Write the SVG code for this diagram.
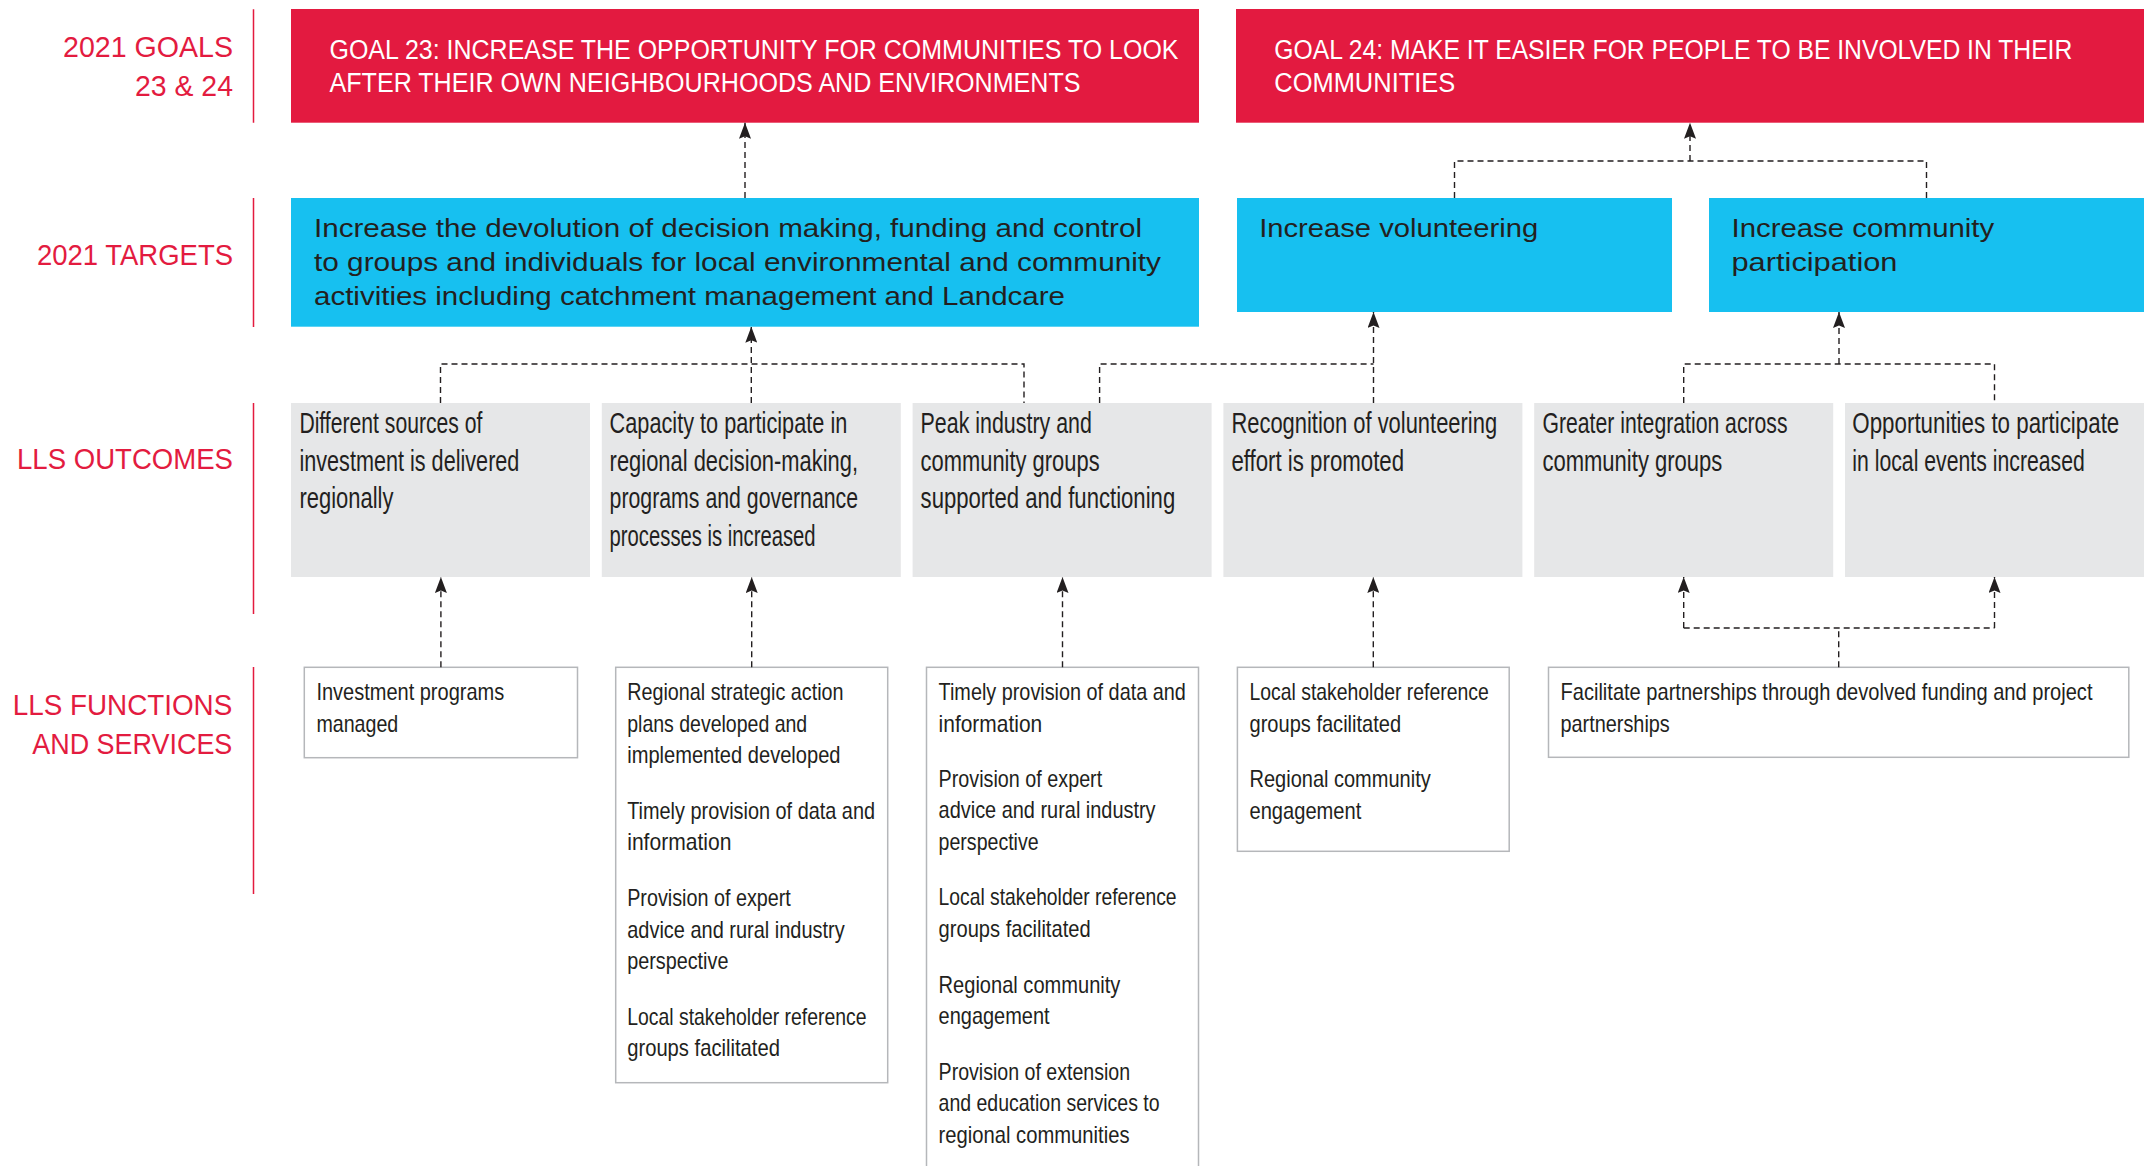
<svg xmlns="http://www.w3.org/2000/svg" width="2147" height="1166" viewBox="0 0 2147 1166">
<defs>
<style>
.lbl{font-family:"Liberation Sans",Arial,sans-serif;font-size:29px;fill:#e31b3f}
.rl{stroke:#e31b3f;stroke-width:1.5;fill:none}
.goal{fill:#e31a40}
.goalt{font-family:"Liberation Sans",Arial,sans-serif;font-size:27px;fill:#ffffff}
.tgt{fill:#17c0f0}
.tgtt{font-family:"Liberation Sans",Arial,sans-serif;font-size:26px;fill:#231f20}
.out{fill:#e6e7e8}
.outt{font-family:"Liberation Sans",Arial,sans-serif;font-size:29px;fill:#231f20}
.fn{fill:#ffffff;stroke:#b5b7ba;stroke-width:1.5}
.fnt{font-family:"Liberation Sans",Arial,sans-serif;font-size:23px;fill:#231f20}
.c{fill:none;stroke:#231f20;stroke-width:1.4;stroke-dasharray:6 4}
.a{marker-end:url(#arr)}
</style>
<marker id="arr" markerUnits="userSpaceOnUse" markerWidth="16" markerHeight="12" viewBox="0 0 16 12" refX="16" refY="6" orient="auto">
<path d="M0,0 L16,6 L0,12 L2.5,6 Z" fill="#231f20"/>
</marker>
</defs>
<rect width="2147" height="1166" fill="#ffffff"/>

<g id="row-labels">
<text class="lbl" x="63" y="56.7" textLength="170" lengthAdjust="spacingAndGlyphs">2021 GOALS</text>
<text class="lbl" x="135" y="96" textLength="98" lengthAdjust="spacingAndGlyphs">23 &amp; 24</text>
<text class="lbl" x="37" y="265" textLength="196" lengthAdjust="spacingAndGlyphs">2021 TARGETS</text>
<text class="lbl" x="17" y="469.3" textLength="216" lengthAdjust="spacingAndGlyphs">LLS OUTCOMES</text>
<text class="lbl" x="12.7" y="715" textLength="219.6" lengthAdjust="spacingAndGlyphs">LLS FUNCTIONS</text>
<text class="lbl" x="32.3" y="754" textLength="200" lengthAdjust="spacingAndGlyphs">AND SERVICES</text>
<path class="rl" d="M253.5,9.3 V122.7 M253.5,198 V327 M253.5,403 V614 M253.5,667 V894"/>
</g>

<g id="goal23">
<rect class="goal" x="291" y="9" width="908" height="113.7"/>
<g transform="matrix(0.92 0 0 1 26.36 0)">
<text class="goalt" x="329.5" y="59.3" textLength="922.83" lengthAdjust="spacingAndGlyphs">GOAL 23: INCREASE THE OPPORTUNITY FOR COMMUNITIES TO LOOK</text>
<text class="goalt" x="329.5" y="92.5" textLength="816.3" lengthAdjust="spacingAndGlyphs">AFTER THEIR OWN NEIGHBOURHOODS AND ENVIRONMENTS</text>
</g>
</g>
<g id="goal24">
<rect class="goal" x="1236" y="9" width="908" height="113.7"/>
<g transform="matrix(0.92 0 0 1 101.944 0)">
<text class="goalt" x="1274.3" y="59.3" textLength="867.39" lengthAdjust="spacingAndGlyphs">GOAL 24: MAKE IT EASIER FOR PEOPLE TO BE INVOLVED IN THEIR</text>
<text class="goalt" x="1274.3" y="92.5" textLength="196.74" lengthAdjust="spacingAndGlyphs">COMMUNITIES</text>
</g>
</g>

<g id="target-devolution">
<rect class="tgt" x="291" y="198" width="908" height="128.7"/>
<text class="tgtt" x="314" y="236.7" textLength="828" lengthAdjust="spacingAndGlyphs">Increase the devolution of decision making, funding and control</text>
<text class="tgtt" x="314" y="270.7" textLength="847" lengthAdjust="spacingAndGlyphs">to groups and individuals for local environmental and community</text>
<text class="tgtt" x="314" y="304.7" textLength="751" lengthAdjust="spacingAndGlyphs">activities including catchment management and Landcare</text>
</g>
<g id="target-volunteering">
<rect class="tgt" x="1237" y="198" width="435" height="114"/>
<text class="tgtt" x="1259.2" y="237" textLength="279" lengthAdjust="spacingAndGlyphs">Increase volunteering</text>
</g>
<g id="target-participation">
<rect class="tgt" x="1709" y="198" width="435" height="114"/>
<text class="tgtt" x="1731.5" y="237" textLength="262.7" lengthAdjust="spacingAndGlyphs">Increase community</text>
<text class="tgtt" x="1731.5" y="270.7" textLength="166" lengthAdjust="spacingAndGlyphs">participation</text>
</g>

<g id="outcome-1">
<rect class="out" x="291" y="403" width="299" height="174"/>
<g transform="matrix(0.76 0 0 1 71.856 0)">
<text class="outt" x="299.4" y="433.3" textLength="240.79" lengthAdjust="spacingAndGlyphs">Different sources of</text>
<text class="outt" x="299.4" y="470.8" textLength="289.47" lengthAdjust="spacingAndGlyphs">investment is delivered</text>
<text class="outt" x="299.4" y="508.3" textLength="123.68" lengthAdjust="spacingAndGlyphs">regionally</text>
</g>
</g>
<g id="outcome-2">
<rect class="out" x="601.8" y="403" width="299" height="174"/>
<g transform="matrix(0.76 0 0 1 146.304 0)">
<text class="outt" x="609.6" y="433.3" textLength="312.76" lengthAdjust="spacingAndGlyphs">Capacity to participate in</text>
<text class="outt" x="609.6" y="470.8" textLength="326.97" lengthAdjust="spacingAndGlyphs">regional decision-making,</text>
<text class="outt" x="609.6" y="508.3" textLength="326.97" lengthAdjust="spacingAndGlyphs">programs and governance</text>
<text class="outt" x="609.6" y="545.8" textLength="271.05" lengthAdjust="spacingAndGlyphs">processes is increased</text>
</g>
</g>
<g id="outcome-3">
<rect class="out" x="912.6" y="403" width="299" height="174"/>
<g transform="matrix(0.76 0 0 1 220.944 0)">
<text class="outt" x="920.6" y="433.3" textLength="225.39" lengthAdjust="spacingAndGlyphs">Peak industry and</text>
<text class="outt" x="920.6" y="470.8" textLength="235.53" lengthAdjust="spacingAndGlyphs">community groups</text>
<text class="outt" x="920.6" y="508.3" textLength="335" lengthAdjust="spacingAndGlyphs">supported and functioning</text>
</g>
</g>
<g id="outcome-4">
<rect class="out" x="1223.4" y="403" width="299" height="174"/>
<g transform="matrix(0.76 0 0 1 295.536 0)">
<text class="outt" x="1231.4" y="433.3" textLength="349.61" lengthAdjust="spacingAndGlyphs">Recognition of volunteering</text>
<text class="outt" x="1231.4" y="470.8" textLength="227.24" lengthAdjust="spacingAndGlyphs">effort is promoted</text>
</g>
</g>
<g id="outcome-5">
<rect class="out" x="1534.2" y="403" width="299" height="174"/>
<g transform="matrix(0.76 0 0 1 370.176 0)">
<text class="outt" x="1542.4" y="433.3" textLength="322.63" lengthAdjust="spacingAndGlyphs">Greater integration across</text>
<text class="outt" x="1542.4" y="470.8" textLength="236.84" lengthAdjust="spacingAndGlyphs">community groups</text>
</g>
</g>
<g id="outcome-6">
<rect class="out" x="1845" y="403" width="299" height="174"/>
<g transform="matrix(0.76 0 0 1 444.552 0)">
<text class="outt" x="1852.3" y="433.3" textLength="351.32" lengthAdjust="spacingAndGlyphs">Opportunities to participate</text>
<text class="outt" x="1852.3" y="470.8" textLength="305.92" lengthAdjust="spacingAndGlyphs">in local events increased</text>
</g>
</g>

<g id="function-1">
<rect class="fn" x="304.3" y="667.3" width="273.2" height="90.4"/>
<g transform="matrix(0.85 0 0 1 47.46 0)">
<text class="fnt" x="316.4" y="700" textLength="220.94" lengthAdjust="spacingAndGlyphs">Investment programs</text>
<text class="fnt" x="316.4" y="731.6" textLength="96.24" lengthAdjust="spacingAndGlyphs">managed</text>
</g>
</g>
<g id="function-2">
<rect class="fn" x="615.7" y="667.3" width="272" height="415.4"/>
<g transform="matrix(0.85 0 0 1 94.08 0)">
<text class="fnt" x="627.2" y="700" textLength="254.47" lengthAdjust="spacingAndGlyphs">Regional strategic action</text>
<text class="fnt" x="627.2" y="731.6" textLength="211.76" lengthAdjust="spacingAndGlyphs">plans developed and</text>
<text class="fnt" x="627.2" y="763.2" textLength="250.94" lengthAdjust="spacingAndGlyphs">implemented developed</text>
<text class="fnt" x="627.2" y="818.8" textLength="291.53" lengthAdjust="spacingAndGlyphs">Timely provision of data and</text>
<text class="fnt" x="627.2" y="850.4" textLength="122.59" lengthAdjust="spacingAndGlyphs">information</text>
<text class="fnt" x="627.2" y="906" textLength="192.47" lengthAdjust="spacingAndGlyphs">Provision of expert</text>
<text class="fnt" x="627.2" y="937.6" textLength="255.88" lengthAdjust="spacingAndGlyphs">advice and rural industry</text>
<text class="fnt" x="627.2" y="969.2" textLength="119.06" lengthAdjust="spacingAndGlyphs">perspective</text>
<text class="fnt" x="627.2" y="1024.8" textLength="281.53" lengthAdjust="spacingAndGlyphs">Local stakeholder reference</text>
<text class="fnt" x="627.2" y="1056.4" textLength="179.65" lengthAdjust="spacingAndGlyphs">groups facilitated</text>
</g>
</g>
<g id="function-3">
<rect class="fn" x="926.5" y="667.3" width="272" height="520"/>
<g transform="matrix(0.85 0 0 1 140.79 0)">
<text class="fnt" x="938.6" y="700" textLength="290.82" lengthAdjust="spacingAndGlyphs">Timely provision of data and</text>
<text class="fnt" x="938.6" y="731.6" textLength="121.88" lengthAdjust="spacingAndGlyphs">information</text>
<text class="fnt" x="938.6" y="786.6" textLength="192.47" lengthAdjust="spacingAndGlyphs">Provision of expert</text>
<text class="fnt" x="938.6" y="818.2" textLength="255.29" lengthAdjust="spacingAndGlyphs">advice and rural industry</text>
<text class="fnt" x="938.6" y="849.8" textLength="117.65" lengthAdjust="spacingAndGlyphs">perspective</text>
<text class="fnt" x="938.6" y="905.4" textLength="280" lengthAdjust="spacingAndGlyphs">Local stakeholder reference</text>
<text class="fnt" x="938.6" y="937" textLength="178.82" lengthAdjust="spacingAndGlyphs">groups facilitated</text>
<text class="fnt" x="938.6" y="992.6" textLength="213.88" lengthAdjust="spacingAndGlyphs">Regional community</text>
<text class="fnt" x="938.6" y="1024.2" textLength="130.59" lengthAdjust="spacingAndGlyphs">engagement</text>
<text class="fnt" x="938.6" y="1079.8" textLength="225.29" lengthAdjust="spacingAndGlyphs">Provision of extension</text>
<text class="fnt" x="938.6" y="1111.4" textLength="260" lengthAdjust="spacingAndGlyphs">and education services to</text>
<text class="fnt" x="938.6" y="1143" textLength="224.59" lengthAdjust="spacingAndGlyphs">regional communities</text>
</g>
</g>
<g id="function-4">
<rect class="fn" x="1237.4" y="667.3" width="271.8" height="184"/>
<g transform="matrix(0.85 0 0 1 187.425 0)">
<text class="fnt" x="1249.5" y="700" textLength="281.41" lengthAdjust="spacingAndGlyphs">Local stakeholder reference</text>
<text class="fnt" x="1249.5" y="731.6" textLength="178.35" lengthAdjust="spacingAndGlyphs">groups facilitated</text>
<text class="fnt" x="1249.5" y="787.2" textLength="213.18" lengthAdjust="spacingAndGlyphs">Regional community</text>
<text class="fnt" x="1249.5" y="818.8" textLength="131.53" lengthAdjust="spacingAndGlyphs">engagement</text>
</g>
</g>
<g id="function-5">
<rect class="fn" x="1548.5" y="667.3" width="580.3" height="90"/>
<g transform="matrix(0.85 0 0 1 234.075 0)">
<text class="fnt" x="1560.5" y="700" textLength="625.88" lengthAdjust="spacingAndGlyphs">Facilitate partnerships through devolved funding and project</text>
<text class="fnt" x="1560.5" y="731.6" textLength="128.59" lengthAdjust="spacingAndGlyphs">partnerships</text>
</g>
</g>

<g id="connectors">
<path class="c a" d="M745,198 V122.7"/>
<path class="c" d="M1454.5,198 V161 H1926.5 V198"/>
<path class="c a" d="M1690,161 V122.7"/>
<path class="c" d="M440.5,403 V364 H1024 V403"/>
<path class="c a" d="M751.3,403 V326.7"/>
<path class="c" d="M1099.6,403 V364 H1373.5"/>
<path class="c a" d="M1373.5,403 V312"/>
<path class="c" d="M1683.7,403 V364 H1994.5 V403"/>
<path class="c a" d="M1839,364 V312"/>
<path class="c a" d="M440.9,667.3 V577"/>
<path class="c a" d="M751.7,667.3 V577"/>
<path class="c a" d="M1062.5,667.3 V577"/>
<path class="c a" d="M1373.3,667.3 V577"/>
<path class="c" d="M1838.7,667.3 V628 M1683.7,628 H1994.5"/>
<path class="c a" d="M1683.7,628 V577"/>
<path class="c a" d="M1994.5,628 V577"/>
</g>
</svg>
